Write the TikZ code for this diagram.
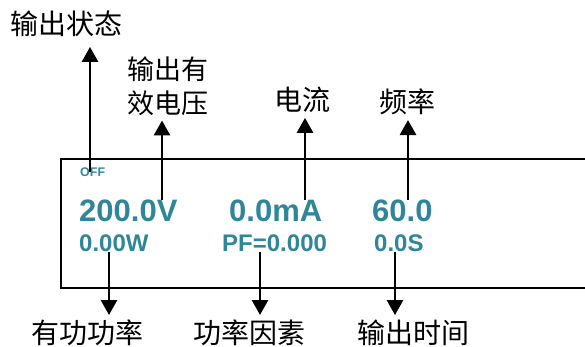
\documentclass[tikz,border=0pt]{standalone}
\usepackage{fontspec}
\setmainfont{Liberation Sans}
\newfontfamily\cjk{Noto Sans CJK SC}
\usepackage{tikz}
\usetikzlibrary{arrows.meta,positioning}
\definecolor{lcdteal}{RGB}{47,133,153}

\begin{document}
\begin{tikzpicture}[
  x=1pt, y=-1pt,
  panelbox/.style={draw, line width=2pt, inner sep=0pt, anchor=north west,
                   minimum width=545pt, minimum height=129pt},
  big/.style={font=\fontsize{31}{31}\selectfont\bfseries, text=lcdteal,
              inner sep=0pt, anchor=west},
  small/.style={font=\fontsize{24}{24}\selectfont\bfseries, text=lcdteal,
                inner sep=0pt, anchor=west},
  tag/.style={font=\cjk\fontsize{28}{34}\selectfont, inner sep=0pt,
              outer sep=5pt, align=left},
  pointer/.style={-{Triangle[width=16pt,length=15pt]}, line width=2.8pt},
]
\useasboundingbox (0,0) rectangle (585,347);

% Display panel, runs off the right edge
\node[panelbox] (panel) at (60,158) {};

% Readings on the panel
\node[font=\fontsize{12.5}{12.5}\selectfont\bfseries, text=lcdteal, inner sep=0pt,
      anchor=west] (off) at (80,172) {OFF};
\node[big] (volt) at (79,211) {200.0V};
\node[big] (curr) at (229,211) {0.0mA};
\node[big] (freq) at (372,211) {60.0};
\node[small] (power) at (79,243.5) {0.00W};
\node[small] (pf) at (222,243.5) {PF=0.000};
\node[small] (time) at (374,243.5) {0.0S};

% Labels above
\node[tag, outer sep=10pt] (state) at (66,24) {输出状态};
\node[tag, font=\cjk\fontsize{27}{34}\selectfont] (uout) at (168,86) {输出有\\效电压};
\node[tag] (ilbl) at (302,100) {电流};
\node[tag] (flbl) at (407,102) {频率};

% Labels below
\node[tag] (plbl) at (87,333) {有功功率};
\node[tag] (pflbl) at (249,333) {功率因素};
\node[tag] (tlbl) at (413,333) {输出时间};

% Pointers up
\draw[pointer] (off.center -| 90,0) -- (state.south -| 90,0);
\draw[pointer] (volt.north -| 162,0) -- (uout.south -| 162,0);
\draw[pointer] (curr.north -| 305,0) -- (ilbl.south -| 305,0);
\draw[pointer] (freq.north -| 408,0) -- (flbl.south -| 408,0);

% Pointers down
\draw[pointer] (power.south -| 109,0) -- (plbl.north -| 109,0);
\draw[pointer] (pf.south -| 260,0) -- (pflbl.north -| 260,0);
\draw[pointer] (time.south -| 395,0) -- (tlbl.north -| 395,0);
\end{tikzpicture}
\end{document}
